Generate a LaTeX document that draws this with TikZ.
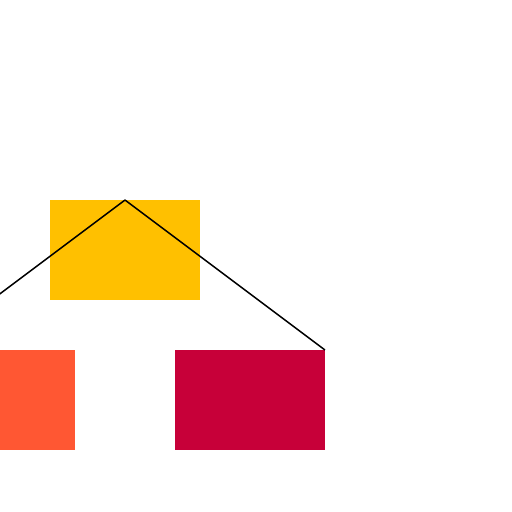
\documentclass[tikz,border=0pt]{standalone}
\definecolor{boxyellow}{HTML}{FFC000}
\definecolor{boxorange}{HTML}{FF5733}
\definecolor{boxcrimson}{HTML}{C70039}
\tikzset{
    block/.style={rectangle, draw=none, inner sep=0pt, outer sep=0pt,
        minimum width=3cm, minimum height=2cm}
}
\begin{document}
\begin{tikzpicture}[x=0.02cm, y=-0.02cm]
        \useasboundingbox (0,0) rectangle (512,512);
        \clip (0,0) rectangle (512,512);

        \node[block, fill=boxyellow] (top) at (125, 250) {};
        \node[block, fill=boxorange] (left) at (0, 400) {};
        \node[block, fill=boxcrimson] (right) at (250, 400) {};

        \draw[line width=0.85pt] (top.north) -- (left.north west);
        \draw[line width=0.85pt] (top.north) -- (right.north east);

    \end{tikzpicture}
\end{document}
